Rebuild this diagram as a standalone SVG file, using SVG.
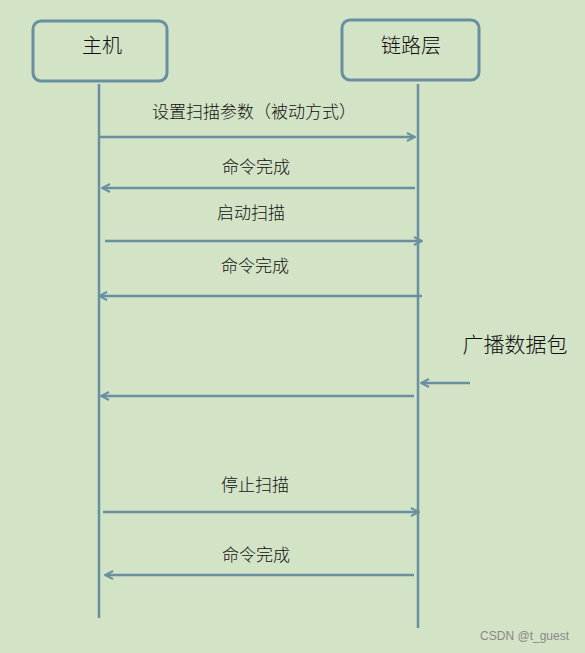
<svg xmlns="http://www.w3.org/2000/svg" width="585" height="653" viewBox="0 0 585 653">
<defs>
<style>
.box{fill:none;stroke:#6890a0;stroke-width:3}
.life{stroke:#6890a0;stroke-width:2.5;fill:none}
.msg{stroke:#6890a0;stroke-width:2.5;fill:none;marker-end:url(#ah)}
.t{font-family:"Noto Sans CJK SC","Noto Sans CJK JP",sans-serif;font-size:17px;font-weight:300;fill:#111;text-anchor:middle}
.tb{font-family:"Noto Sans CJK SC","Noto Sans CJK JP",sans-serif;font-size:20px;font-weight:300;fill:#111;text-anchor:middle}
</style>
<marker id="ah" viewBox="0 0 10 10" refX="9" refY="5" markerWidth="10" markerHeight="10" markerUnits="userSpaceOnUse" orient="auto">
<path d="M1,1 L9,5 L1,9" fill="none" stroke="#6890a0" stroke-width="2"/>
</marker>
</defs>
<rect width="585" height="653" fill="#d3e3c6"/>
<g id="host">
<rect class="box" x="33" y="21" width="134" height="60" rx="8"/>
<text class="tb" x="102" y="53">主机</text>
</g>
<g id="link">
<rect class="box" x="342" y="20" width="137" height="60" rx="8"/>
<text class="tb" x="411" y="53">链路层</text>
</g>
<g id="lifelines">
<line class="life" x1="99" y1="84" x2="99" y2="618"/>
<line class="life" x1="418" y1="84" x2="418" y2="628"/>
</g>
<g id="connectors">
<line class="msg" x1="99" y1="137" x2="415" y2="137"/>
<line class="msg" x1="415" y1="188" x2="102" y2="188"/>
<line class="msg" x1="105" y1="241" x2="422" y2="241"/>
<line class="msg" x1="422" y1="296" x2="99" y2="296"/>
<line class="msg" x1="470" y1="383" x2="421" y2="383"/>
<line class="msg" x1="414" y1="396" x2="101" y2="396"/>
<line class="msg" x1="103" y1="512" x2="419" y2="512"/>
<line class="msg" x1="414" y1="575" x2="105" y2="575"/>
</g>
<g id="labels">
<text class="t" x="254" y="118">设置扫描参数（被动方式）</text>
<text class="t" x="256" y="173">命令完成</text>
<text class="t" x="251" y="219">启动扫描</text>
<text class="t" x="255" y="272">命令完成</text>
<text class="tb" x="515" y="352" style="font-size:21px">广播数据包</text>
<text class="t" x="255" y="491">停止扫描</text>
<text class="t" x="256" y="561">命令完成</text>
</g>
<text x="569" y="640" font-family="Liberation Sans, sans-serif" font-size="12" fill="#888" text-anchor="end">CSDN @t_guest</text>
</svg>
